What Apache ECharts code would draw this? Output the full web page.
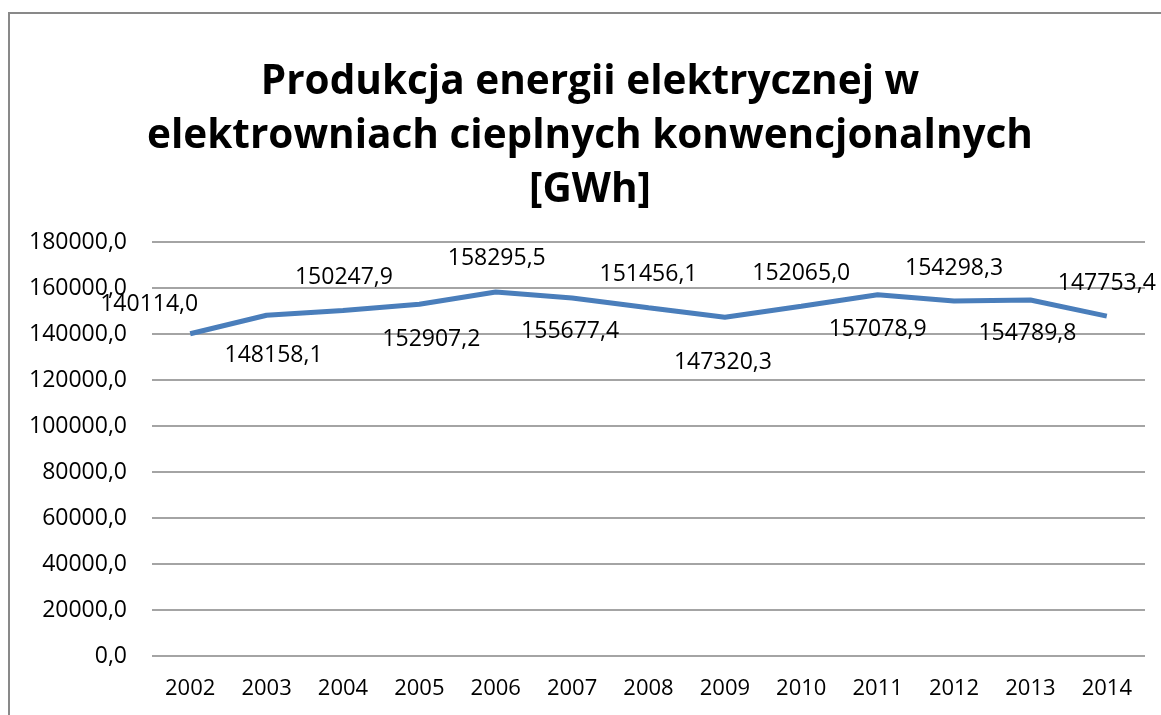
<!DOCTYPE html>
<html>
<head>
<meta charset="utf-8">
<script src="https://cdn.jsdelivr.net/npm/echarts@6/dist/echarts.min.js"></script>
<style>
  html, body { margin: 0; padding: 0; background: #fff; }
  #chart { width: 1161px; height: 715px; }
</style>
</head>
<body>
<div id="chart"></div>
<script>
// Produkcja energii elektrycznej [GWh], 2002-2014
const years = ['2002', '2003', '2004', '2005', '2006', '2007', '2008',
               '2009', '2010', '2011', '2012', '2013', '2014'];
const production = [140114.0, 148158.1, 150247.9, 152907.2, 158295.5, 155677.4,
                    151456.1, 147320.3, 152065.0, 157078.9, 154298.3, 154789.8, 147753.4];
const yTicks = [0, 20000, 40000, 60000, 80000, 100000, 120000, 140000, 160000, 180000];

// where each value label sits relative to its point (px), as placed in the original
const labelOffsets = [[-41, -29], [7, 40], [1, -33], [12, 35], [1, -33], [-2, 34], [0, -33],
                      [-2, 45], [0, -33], [0, 35], [0, -33], [-3, 33], [0, -33]];

const fmt = v => v.toFixed(1).replace('.', ',');
const font = 'Open Sans';

const chart = echarts.init(document.getElementById('chart'), null, { renderer: 'canvas' });

chart.setOption({
  animation: false,
  backgroundColor: '#ffffff',
  title: {
    text: 'Produkcja energii elektrycznej w\nelektrowniach cieplnych konwencjonalnych\n[GWh]',
    left: 585,
    top: 50,
    textAlign: 'center',
    textStyle: {
      fontFamily: font,
      fontWeight: 'bold',
      fontSize: 40.5,
      lineHeight: 54,
      color: '#000'
    }
  },
  graphic: [{
    type: 'rect',
    shape: { x: 9, y: 13, width: 1300, height: 900 },
    style: { fill: null, stroke: '#898989', lineWidth: 2 },
    silent: true
  }],
  grid: { left: 152, right: 16, top: 242, bottom: 59, containLabel: false },
  xAxis: {
    type: 'category',
    data: years,
    boundaryGap: true,
    axisLine: { show: false },
    axisTick: { show: false },
    axisLabel: { color: '#000', fontFamily: font, fontSize: 22, margin: 22 }
  },
  yAxis: {
    type: 'value',
    min: yTicks[0],
    max: yTicks[yTicks.length - 1],
    interval: yTicks[1] - yTicks[0],
    axisLine: { show: false },
    axisTick: { show: false },
    splitLine: { lineStyle: { color: '#868686', width: 1.5 } },
    axisLabel: { color: '#000', fontFamily: font, fontSize: 23, margin: 25, formatter: fmt }
  },
  series: [{
    type: 'line',
    data: production.map((v, i) => ({
      value: v,
      label: { position: 'inside', offset: labelOffsets[i] }
    })),
    showSymbol: true,
    symbol: 'circle',
    symbolSize: 0.1,
    itemStyle: { color: '#4A7EBB' },
    lineStyle: { color: '#4A7EBB', width: 5 },
    label: {
      show: true,
      color: '#000',
      fontFamily: font,
      fontSize: 23,
      formatter: p => fmt(p.value)
    }
  }]
});
</script>
</body>
</html>
